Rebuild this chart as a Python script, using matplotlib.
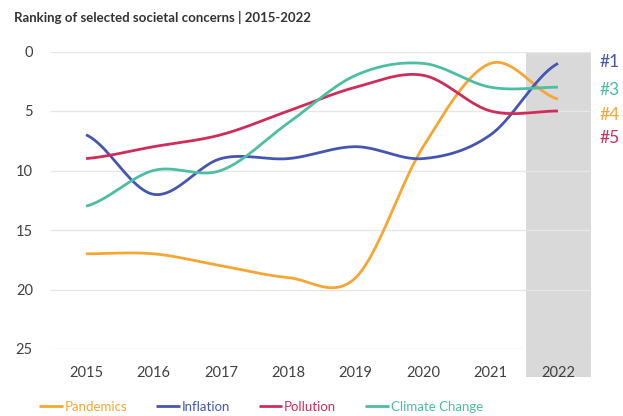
import numpy as np
import matplotlib
matplotlib.use("Agg")
import matplotlib.pyplot as plt
from matplotlib.patches import Rectangle

plt.rcParams['font.family'] = ['Lato', 'DejaVu Sans']

years = ["2015", "2016", "2017", "2018", "2019", "2020", "2021", "2022"]
pandemics = [17, 17, 18, 19, 19, 8, 1, 4]
inflation = [7, 12, 9, 9, 8, 9, 7, 1]
pollution = [9, 8, 7, 5, 3, 2, 5, 5]
climate = [13, 10, 10, 6, 2, 1, 3, 3]

series_names = ["Pandemics", "Inflation", "Pollution", "Climate Change"]
series_colors = ["#F7A633", "#4456B2", "#D02C5A", "#4CBFA2"]

final_ranks = ["#1", "#3", "#4", "#5"]
final_colors = ["#4456B2", "#4CBFA2", "#F7A633", "#D02C5A"]


def smooth(xs, ys, n=40):
    """Catmull-Rom curve through every point."""
    xs = np.asarray(xs, float)
    ys = np.asarray(ys, float)
    px = np.concatenate([[2 * xs[0] - xs[1]], xs, [2 * xs[-1] - xs[-2]]])
    py = np.concatenate([[ys[0]], ys, [ys[-1]]])
    out_x, out_y = [], []
    t = np.linspace(0, 1, n, endpoint=False)
    for i in range(1, len(px) - 2):
        for p, out in ((px, out_x), (py, out_y)):
            p0, p1, p2, p3 = p[i - 1], p[i], p[i + 1], p[i + 2]
            m1 = (p2 - p0) / 2
            m2 = (p3 - p1) / 2
            h00 = 2 * t**3 - 3 * t**2 + 1
            h10 = t**3 - 2 * t**2 + t
            h01 = -2 * t**3 + 3 * t**2
            h11 = t**3 - t**2
            out.extend(h00 * p1 + h10 * m1 + h01 * p2 + h11 * m2)
    out_x.append(xs[-1])
    out_y.append(ys[-1])
    return np.array(out_x), np.array(out_y)


fig = plt.figure(figsize=(6.23, 4.16), dpi=100)
ax = fig.add_axes([51 / 623, 1 - 349 / 416, 540 / 623, (349 - 51.5) / 416])

x = np.arange(len(years))

# highlighted latest year band, running down behind the tick label
ax.add_patch(Rectangle((6.53, 0), 0.96, 27.35, facecolor="#D9D9D9",
                       edgecolor="none", zorder=0, clip_on=False))

for vals, name, col in zip([pandemics, inflation, pollution, climate],
                           series_names, series_colors):
    sx, sy = smooth(x, vals)
    ax.plot(sx, sy, color=col, lw=2.0, label=name, solid_capstyle="butt", zorder=3)

ax.set_xlim(-0.52, 7.49)
ax.set_ylim(25, 0)
ax.set_yticks([0, 5, 10, 15, 20, 25])
ax.set_xticks(x)
ax.set_xticklabels(years)
ax.yaxis.grid(True, color="#E6E6E6", lw=1.0, zorder=1)
ax.set_axisbelow(True)
for s in ax.spines.values():
    s.set_visible(False)
ax.tick_params(axis="both", length=0, labelsize=10.5, colors="#404040")
ax.tick_params(axis="y", pad=13)
ax.tick_params(axis="x", pad=12)

label_y = [0.9, 3.2, 5.3, 7.3]
for r, c, yy in zip(final_ranks, final_colors, label_y):
    ax.text(7.62, yy, r, color=c, fontsize=12.5, va="center", ha="left", clip_on=False)

fig.text(14 / 623, 1 - 17 / 416, "Ranking of selected societal concerns | 2015-2022",
         fontsize=9.5, fontweight="bold", color="#333333", va="center", ha="left")

fig.legend(loc="center left", bbox_to_anchor=(39 / 623, 1 - 407 / 416),
           frameon=False, borderpad=0, borderaxespad=0, ncol=4,
           handlelength=1.8, handletextpad=0.12, columnspacing=2.2,
           labelcolor="linecolor", fontsize=9.5)

fig.savefig("out.png", dpi=100, facecolor="white")
